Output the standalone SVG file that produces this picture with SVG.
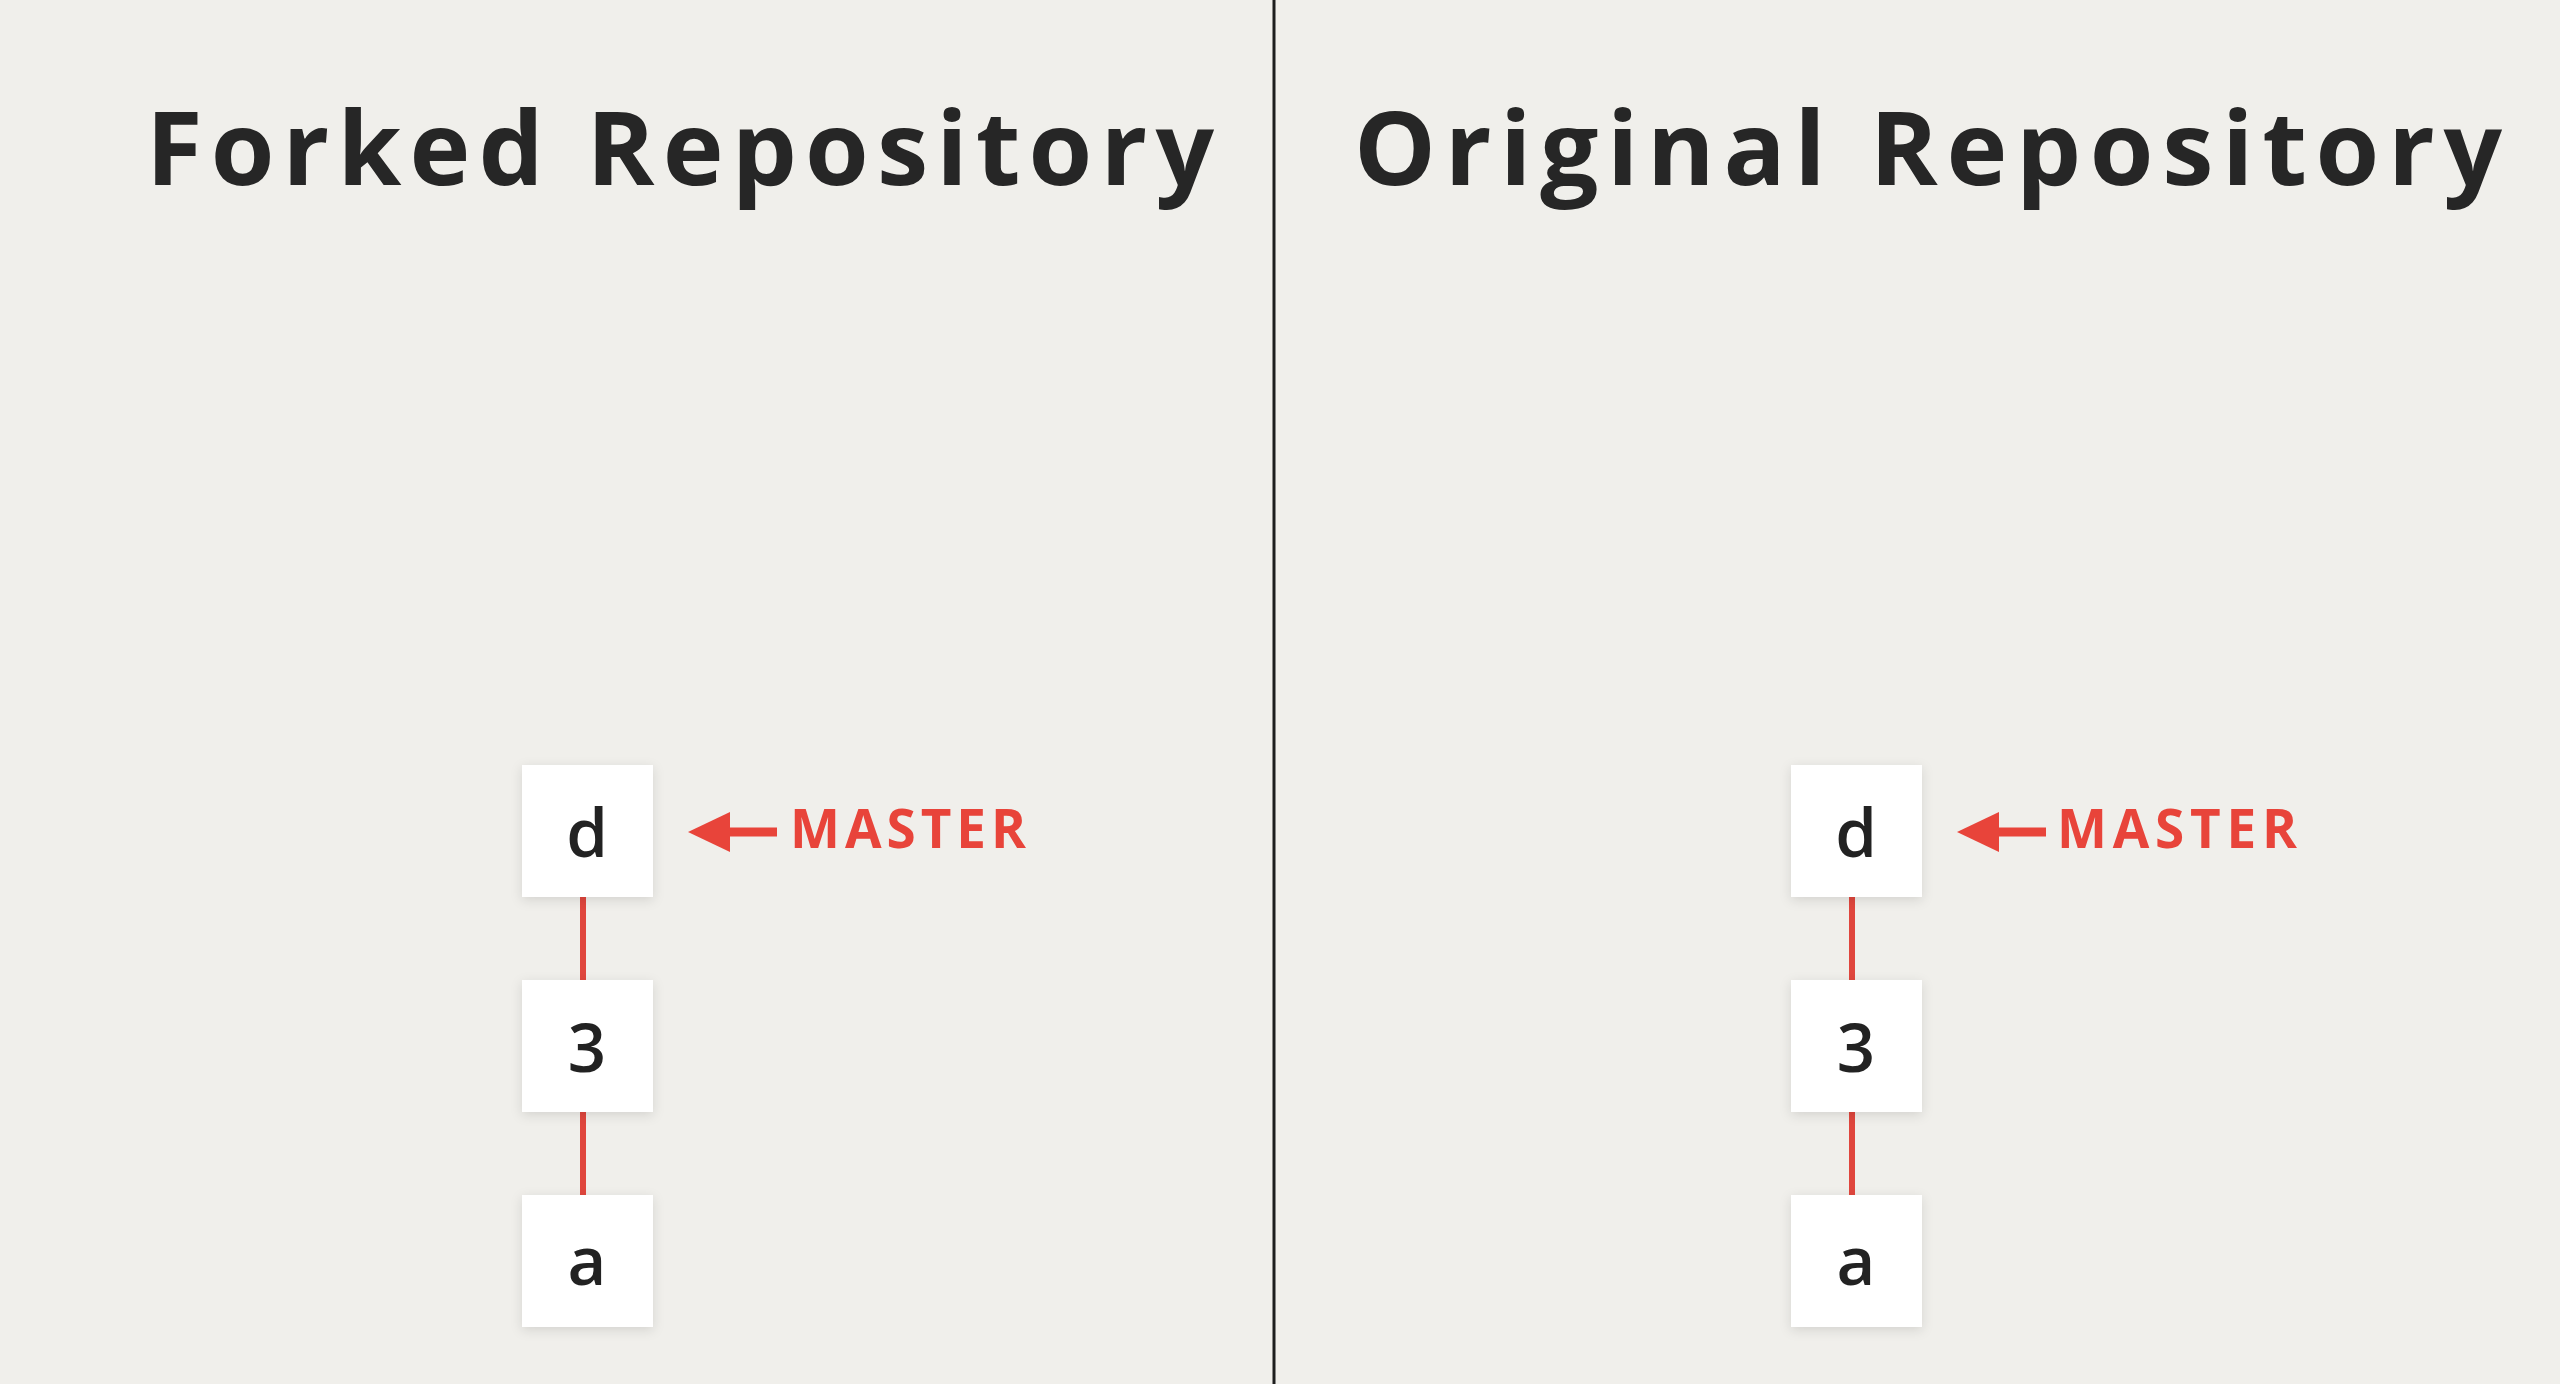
<svg xmlns="http://www.w3.org/2000/svg" width="2560" height="1384" viewBox="0 0 2560 1384">
<defs>
<style>
.title{font-family:"Open Sans","Liberation Sans",sans-serif;font-weight:700;font-size:103px;fill:#262626;}
.box{fill:#ffffff;filter:url(#sh);}
.lbl{font-family:"Open Sans","Liberation Sans",sans-serif;font-weight:600;font-size:67px;fill:#222222;text-anchor:middle;}
.master{font-family:"Open Sans","Liberation Sans",sans-serif;font-weight:700;font-size:53px;fill:#e8443a;}
.conn{stroke:#e0463d;stroke-width:6;fill:none;}
.shaft{stroke:#e8443a;stroke-width:9;fill:none;}
.head{fill:#e8443a;}
</style>
<filter id="sh" x="-20%" y="-20%" width="140%" height="140%">
<feDropShadow dx="0" dy="3" stdDeviation="6" flood-color="#000000" flood-opacity="0.12"/>
</filter>
</defs>
<rect x="0" y="0" width="2560" height="1384" fill="#f0efeb"/>
<line x1="1274" y1="0" x2="1274" y2="1384" stroke="#1e1e1e" stroke-width="3"/>
<text class="title" x="146" y="185" textLength="1068" lengthAdjust="spacing">Forked Repository</text>
<text class="title" x="1354" y="185" textLength="1148" lengthAdjust="spacing">Original Repository</text>
<g id="connectors">
<line class="conn" x1="583" y1="897" x2="583" y2="980"/>
<line class="conn" x1="583" y1="1112" x2="583" y2="1195"/>
<line class="conn" x1="1852" y1="897" x2="1852" y2="980"/>
<line class="conn" x1="1852" y1="1112" x2="1852" y2="1195"/>
</g>
<g id="fork-d"><rect class="box" x="522" y="765" width="131" height="132"/><text class="lbl" x="587" y="857">d</text></g>
<g id="fork-3"><rect class="box" x="522" y="980" width="131" height="132"/><text class="lbl" x="587" y="1072">3</text></g>
<g id="fork-a"><rect class="box" x="522" y="1195" width="131" height="132"/><text class="lbl" x="587" y="1285">a</text></g>
<g id="orig-d"><rect class="box" x="1791" y="765" width="131" height="132"/><text class="lbl" x="1856" y="857">d</text></g>
<g id="orig-3"><rect class="box" x="1791" y="980" width="131" height="132"/><text class="lbl" x="1856" y="1072">3</text></g>
<g id="orig-a"><rect class="box" x="1791" y="1195" width="131" height="132"/><text class="lbl" x="1856" y="1285">a</text></g>
<g id="fork-master">
<line class="shaft" x1="725" y1="832" x2="777" y2="832"/>
<polygon class="head" points="688,832 730,812 730,852"/>
<text class="master" x="790" y="848" textLength="236" lengthAdjust="spacing">MASTER</text>
</g>
<g id="orig-master">
<line class="shaft" x1="1994" y1="832" x2="2046" y2="832"/>
<polygon class="head" points="1957,832 1999,812 1999,852"/>
<text class="master" x="2057" y="848" textLength="240" lengthAdjust="spacing">MASTER</text>
</g>
</svg>
